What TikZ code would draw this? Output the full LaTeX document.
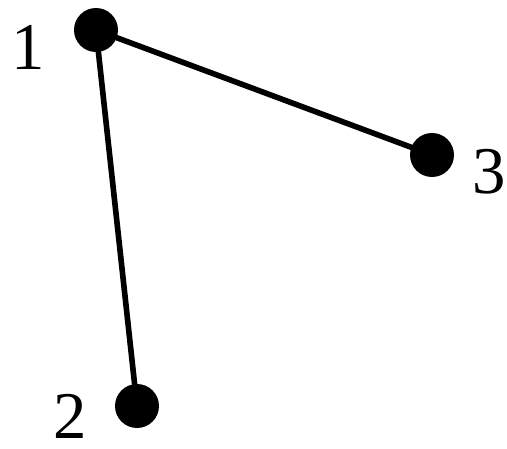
\documentclass[tikz,border=0pt]{standalone}
\usepackage{fontspec}
\setmainfont{Liberation Serif}
\usepackage{tikz}
\usetikzlibrary{positioning}

\begin{document}
\begin{tikzpicture}[
  x=0.02cm, y=-0.02cm,
  vertex/.style={
    circle,
    fill=black,
    draw=none,
    inner sep=0pt,
    minimum size=0.88cm
  },
  vlabel/.style={
    inner sep=0pt,
    font=\fontsize{38}{42}\selectfont
  },
  edge/.style={line width=3.2pt,draw=black}
]
\useasboundingbox (0,0) rectangle (507,449);
\node[vertex] (v1) at (96,30) {};
\node[vertex] (v2) at (137,406) {};
\node[vertex] (v3) at (432,155) {};
\node[vlabel] (l1) at (28,47) {1};
\node[vlabel] (l2) at (70,416) {2};
\node[vlabel] (l3) at (489,172) {3};

\draw[edge] (v1.center) -- (v2.center);
\draw[edge] (v1.center) -- (v3.center);
\end{tikzpicture}
\end{document}
